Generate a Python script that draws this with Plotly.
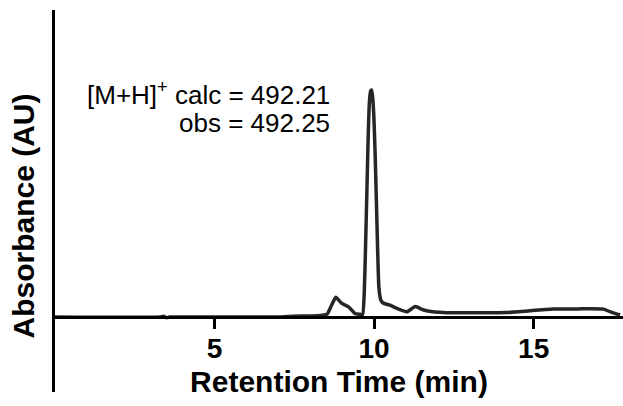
import plotly.graph_objects as go

# HPLC trace: retention time (min) vs. normalised absorbance
retention_time = [
    0.0, 3.30, 3.40, 3.50, 3.60, 7.00, 7.46, 8.20, 8.53, 8.66, 8.80, 8.99,
    9.20, 9.40, 9.56, 9.64, 9.69, 9.73, 9.77, 9.81, 9.85, 9.89, 9.92, 9.95, 9.99,
    10.03, 10.07, 10.11, 10.15, 10.21, 10.28, 10.50, 10.71, 11.02, 11.29,
    11.55, 11.85, 12.17, 12.38, 14.16, 14.89, 15.62, 16.40, 17.19, 17.40, 17.71,
]
absorbance = [
    0.000, 0.000, 0.004, -0.003, 0.000, 0.000, 0.004, 0.006, 0.013, 0.050, 0.087, 0.060,
    0.045, 0.016, 0.012, 0.010, 0.100, 0.300, 0.530, 0.770, 0.940, 0.995, 1.000, 0.975, 0.890,
    0.730, 0.520, 0.300, 0.130, 0.075, 0.062, 0.052, 0.038, 0.023, 0.046,
    0.031, 0.023, 0.020, 0.019, 0.020, 0.028, 0.035, 0.036, 0.035, 0.023, 0.009,
]

x_ticks = [5, 10, 15]
x_range = [0, 17.8]
y_range = [-0.330, 1.352]

title_x = "Retention Time (min)"
title_y = "Absorbance (AU)"
mass_calc = "[M+H]<sup>+</sup> calc = 492.21"
mass_obs = "obs = 492.25"

FONT = "Arial, Liberation Sans, sans-serif"

fig = go.Figure(
    go.Scatter(
        x=retention_time,
        y=absorbance,
        mode="lines",
        line=dict(color="#262626", width=3.5, shape="spline", smoothing=0.4),
        hoverinfo="skip",
    )
)

# x axis sits at absorbance = 0, inside the taller y-axis span
x_axis_pos = (0 - y_range[0]) / (y_range[1] - y_range[0])

fig.update_layout(
    width=623,
    height=406,
    margin=dict(l=55, r=0, t=10, b=14, autoexpand=False),
    paper_bgcolor="white",
    plot_bgcolor="white",
    showlegend=False,
    xaxis=dict(
        range=x_range,
        tickvals=x_ticks,
        ticks="outside",
        ticklen=10,
        tickwidth=3,
        tickcolor="black",
        showline=True,
        linecolor="black",
        linewidth=3,
        showgrid=False,
        zeroline=False,
        anchor="free",
        position=x_axis_pos,
        ticklabelstandoff=-5,
        tickfont=dict(family=FONT, size=28, color="black", weight="bold"),
        title=dict(
            text=title_x,
            font=dict(family=FONT, size=30, color="black", weight="bold"),
            standoff=8,
        ),
        automargin=False,
    ),
    yaxis=dict(
        range=y_range,
        showticklabels=False,
        ticks="",
        showline=True,
        linecolor="black",
        linewidth=3,
        showgrid=False,
        zeroline=False,
        automargin=False,
    ),
    annotations=[
        dict(
            text=title_y,
            textangle=-90,
            xref="paper", yref="paper",
            x=-0.0546, y=0.462,
            xanchor="center", yanchor="middle",
            showarrow=False,
            font=dict(family=FONT, size=30, color="black", weight="bold"),
        ),
        dict(
            text=mass_calc,
            xref="paper", yref="paper",
            x=0.4877, y=0.782,
            xanchor="right", yanchor="middle",
            showarrow=False,
            font=dict(family=FONT, size=26, color="black"),
        ),
        dict(
            text=mass_obs,
            xref="paper", yref="paper",
            x=0.4877, y=0.705,
            xanchor="right", yanchor="middle",
            showarrow=False,
            font=dict(family=FONT, size=26, color="black"),
        ),
    ],
)

fig.write_html("out.html")
